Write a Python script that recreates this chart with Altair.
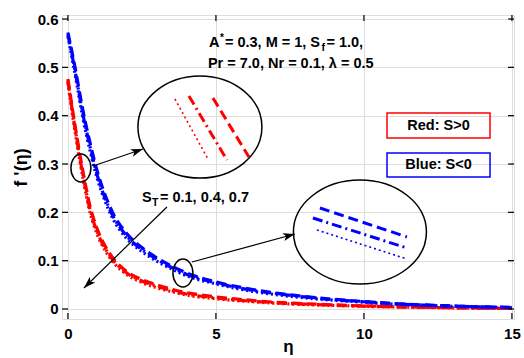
import altair as alt
import pandas as pd

# ---------------- data ----------------
eta = [0, 0.25, 0.5, 0.75, 1, 1.25, 1.5, 2, 2.5, 3, 3.5, 4, 5, 6, 7, 8, 9, 10, 11, 12, 13, 14, 15]

red_dashed = [0.476, 0.376, 0.287, 0.212, 0.164, 0.131, 0.107, 0.077, 0.061, 0.050, 0.041, 0.034, 0.025,
              0.019, 0.014, 0.011, 0.0085, 0.0065, 0.005, 0.0038, 0.0028, 0.002, 0.0014]
red_dashdot = [0.472, 0.370, 0.280, 0.205, 0.158, 0.126, 0.103, 0.074, 0.058, 0.047, 0.038, 0.031, 0.023,
               0.017, 0.013, 0.010, 0.0078, 0.006, 0.0046, 0.0035, 0.0026, 0.0018, 0.0012]
red_dotted = [0.468, 0.363, 0.273, 0.199, 0.153, 0.122, 0.099, 0.071, 0.055, 0.044, 0.036, 0.029, 0.021,
              0.016, 0.012, 0.0092, 0.0072, 0.0055, 0.0042, 0.0032, 0.0024, 0.0016, 0.001]

blue_dashed = [0.572, 0.497, 0.413, 0.343, 0.283, 0.237, 0.201, 0.155, 0.127, 0.106, 0.089, 0.075, 0.056,
               0.043, 0.033, 0.026, 0.020, 0.0155, 0.0115, 0.0085, 0.0063, 0.0045, 0.0032]
blue_dashdot = [0.568, 0.490, 0.405, 0.335, 0.275, 0.230, 0.195, 0.150, 0.123, 0.103, 0.086, 0.072, 0.054,
                0.041, 0.032, 0.025, 0.019, 0.015, 0.011, 0.008, 0.006, 0.0043, 0.003]
blue_dotted = [0.564, 0.483, 0.397, 0.327, 0.268, 0.224, 0.189, 0.145, 0.119, 0.099, 0.083, 0.069, 0.052,
               0.039, 0.030, 0.023, 0.018, 0.014, 0.010, 0.0075, 0.0055, 0.004, 0.0028]

x_ticks = [0, 5, 10, 15]
y_ticks = [0, 0.1, 0.2, 0.3, 0.4, 0.5, 0.6]

# annotation anchors (data units)
ell_big1 = [4.46, 0.3766]
ell_big2 = [9.865, 0.1593]
ell_small_x = [0.439, 3.885]
ell_small_y = [0.2917, 0.0745]

arrow_x = [0.845, 4.189, 3.345]
arrow_y = [0.2959, 0.0972, 0.211]
arrow_x2 = [2.534, 7.669, 0.541]
arrow_y2 = [0.331, 0.1552, 0.0435]
arrow_angle = [341, 345, 136]

# inset segments: style, x, y, x2, y2
inset_style = ["dotted", "dashdot", "dashed", "dashed", "dashdot", "dotted"]
inset_color = ["red", "red", "red", "blue", "blue", "blue"]
inset_x = [3.615, 4.088, 4.899, 8.514, 8.277, 8.412]
inset_y = [0.4345, 0.4407, 0.4366, 0.209, 0.1883, 0.1635]
inset_x2 = [4.73, 5.372, 6.115, 11.453, 11.453, 11.453]
inset_y2 = [0.3104, 0.3083, 0.3145, 0.149, 0.1262, 0.1035]

legend_labels = ["Red: S>0", "Blue: S<0"]
legend_colors = ["#ff0000", "#0000ff"]
legend_x = [10.78, 10.78]
legend_x2 = [14.26, 14.26]
legend_y = [0.4055, 0.3228]
legend_y2 = [0.3538, 0.2731]

# ---------------- chart ----------------
W, H = 452, 304
FONT = "Liberation Sans"
xs = alt.Scale(domain=[-0.2, 15.07], nice=False, zero=False)
ys = alt.Scale(domain=[-0.0207, 0.6083], nice=False, zero=False)
RED, BLUE = "#ff0000", "#0000ff"
DASH = {"dashed": [10, 5], "dashdot": [10, 4, 2, 4], "dotted": [2, 3]}


def xq(field, axis=None):
    return alt.X(field, type="quantitative", scale=xs, axis=axis)


def yq(field, axis=None):
    return alt.Y(field, type="quantitative", scale=ys, axis=axis)


x_axis = alt.Axis(values=x_ticks, format="d", grid=True, ticks=False, domain=False,
                  labelFont=FONT, labelFontSize=15, labelFontWeight="bold", labelColor="black",
                  labelPadding=7, title="η", titleFont=FONT, titleFontSize=17,
                  titleFontWeight="bold", titleColor="black", titlePadding=-3)
y_axis = alt.Axis(values=y_ticks, format=".1~f", grid=True, ticks=False, domain=False,
                  labelFont=FONT, labelFontSize=15, labelFontWeight="bold", labelColor="black",
                  labelPadding=4, title="f '(η)", titleFont=FONT, titleFontSize=18,
                  titleFontWeight="bold", titleColor="black", titlePadding=7)

curves = [
    (red_dotted, RED, "dotted"), (red_dashdot, RED, "dashdot"), (red_dashed, RED, "dashed"),
    (blue_dotted, BLUE, "dotted"), (blue_dashdot, BLUE, "dashdot"), (blue_dashed, BLUE, "dashed"),
]

layers = []
grid_df = pd.DataFrame({"eta": eta, "f": red_dashed})
layers.append(alt.Chart(grid_df).mark_line(opacity=0).encode(
    x=xq("eta", x_axis), y=yq("f", y_axis)))

for vals, col, sty in curves:
    df = pd.DataFrame({"eta": eta, "f": vals})
    layers.append(alt.Chart(df).mark_line(color=col, strokeWidth=3.2, strokeDash=DASH[sty],
                                          interpolate="monotone", clip=True)
                  .encode(x=xq("eta"), y=yq("f")))

# inward ticks
ydf = pd.DataFrame({"v": y_ticks})
xdf = pd.DataFrame({"v": x_ticks})
layers.append(alt.Chart(ydf).mark_rule(color="black", strokeWidth=1.2).encode(
    y=yq("v"), x=alt.value(0), x2=alt.value(6)))
layers.append(alt.Chart(ydf).mark_rule(color="black", strokeWidth=1.2).encode(
    y=yq("v"), x=alt.value(W - 6), x2=alt.value(W)))
layers.append(alt.Chart(xdf).mark_rule(color="black", strokeWidth=1.2).encode(
    x=xq("v"), y=alt.value(H - 6), y2=alt.value(H)))
layers.append(alt.Chart(xdf).mark_rule(color="black", strokeWidth=1.2).encode(
    x=xq("v"), y=alt.value(0), y2=alt.value(6)))

# inset segments
ins = pd.DataFrame({"s": inset_style, "c": inset_color, "x": inset_x, "y": inset_y,
                    "x2": inset_x2, "y2": inset_y2})
for sty in ["dashed", "dashdot", "dotted"]:
    for col, cname in [(RED, "red"), (BLUE, "blue")]:
        sub = ins[(ins.s == sty) & (ins.c == cname)]
        layers.append(alt.Chart(sub).mark_rule(
            color=col, strokeWidth=(1.6 if sty == "dotted" else 3),
            strokeDash=([2, 3] if sty == "dotted" else DASH[sty])).encode(
            x=xq("x"), y=yq("y"), x2="x2", y2="y2"))

# ellipses
ELL = "M-1,0A1,{r},0,1,1,1,0A1,{r},0,1,1,-1,0Z"
SMALL = "M-0.714,0A0.714,1,0,1,1,0.714,0A0.714,1,0,1,1,-0.714,0Z"
layers.append(alt.Chart(pd.DataFrame({"x": [ell_big1[0]], "y": [ell_big1[1]]})).mark_point(
    shape=ELL.format(r=0.823), size=124 ** 2, filled=False, color="black", strokeWidth=1.5,
    opacity=1).encode(x=xq("x"), y=yq("y")))
layers.append(alt.Chart(pd.DataFrame({"x": [ell_big2[0]], "y": [ell_big2[1]]})).mark_point(
    shape=ELL.format(r=0.782), size=133 ** 2, filled=False, color="black", strokeWidth=1.5,
    opacity=1).encode(x=xq("x"), y=yq("y")))
layers.append(alt.Chart(pd.DataFrame({"x": ell_small_x, "y": ell_small_y})).mark_point(
    shape=SMALL, size=28 ** 2, filled=False, color="black", strokeWidth=1.5,
    opacity=1).encode(x=xq("x"), y=yq("y")))

# arrows
adf = pd.DataFrame({"x": arrow_x, "y": arrow_y, "x2": arrow_x2, "y2": arrow_y2, "a": arrow_angle})
layers.append(alt.Chart(adf).mark_rule(color="black", strokeWidth=1.2).encode(
    x=xq("x"), y=yq("y"), x2="x2", y2="y2"))
layers.append(alt.Chart(adf).mark_point(
    shape="M0,0L-2.4,-0.8L-1.8,0L-2.4,0.8Z", size=100, filled=True, color="black",
    opacity=1).encode(x=xq("x2"), y=yq("y2"),
                      angle=alt.Angle("a", type="quantitative", scale=None)))

# legend boxes
ldf = pd.DataFrame({"t": legend_labels, "c": legend_colors, "x": legend_x, "x2": legend_x2,
                    "y": legend_y, "y2": legend_y2})
layers.append(alt.Chart(ldf).mark_rect(fill=None, fillOpacity=0, strokeWidth=1.5).encode(
    x=xq("x"), x2="x2", y=yq("y"), y2="y2",
    stroke=alt.Stroke("c", type="nominal", scale=None)))
ldf["xm"] = [(a + b) / 2 for a, b in zip(legend_x, legend_x2)]
ldf["ym"] = [(a + b) / 2 for a, b in zip(legend_y, legend_y2)]
layers.append(alt.Chart(ldf).mark_text(font=FONT, fontSize=14.5, fontWeight="bold", color="black",
                                       baseline="middle", align="center").encode(
    x=xq("xm"), y=yq("ym"), text="t"))

# parameter texts
def txt(x, y, s, size=14.5, dx=0, dy=0):
    return alt.Chart(pd.DataFrame({"x": [x], "y": [y], "t": [s]})).mark_text(
        font=FONT, fontSize=size, fontWeight="bold", color="black", align="left",
        baseline="alphabetic", dx=dx, dy=dy).encode(x=xq("x"), y=yq("y"), text="t")

l1x, l1y = 4.764, 0.5421
layers += [
    txt(l1x, l1y, "A"),
    txt(l1x, l1y, "*", size=10, dx=11, dy=-6),
    txt(l1x, l1y, " = 0.3, M = 1, S", dx=16),
    txt(l1x, l1y, "f", size=10.5, dx=112.5, dy=4),
    txt(l1x, l1y, " = 1.0,", dx=117.5),
    txt(4.73, 0.4987, "Pr = 7.0, Nr = 0.1, λ = 0.5"),
]
stx, sty_ = 2.5, 0.2214
layers += [
    txt(stx, sty_, "S"),
    txt(stx, sty_, "T", size=10.5, dx=10, dy=4),
    txt(stx, sty_, " = 0.1, 0.4, 0.7", dx=18),
]

chart = alt.layer(*layers).resolve_axis(x="independent", y="independent").properties(
    width=W, height=H,
    autosize=alt.AutoSizeParams(type="none"),
    padding={"left": 62, "top": 15, "right": 10, "bottom": 39},
).configure_view(stroke="black", strokeWidth=1.5).configure_axis(
    gridColor="#444", gridDash=[1, 3], gridWidth=1, gridOpacity=0.9
).configure(background="white")

chart.save("out.html", embed_options={"renderer": "svg", "actions": False})
